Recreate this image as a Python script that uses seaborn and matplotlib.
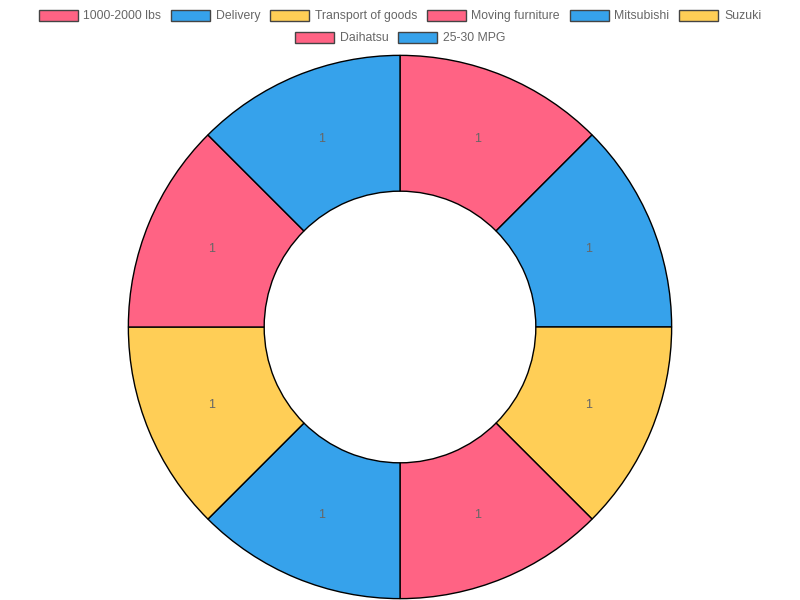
import matplotlib
matplotlib.use("Agg")
import matplotlib.pyplot as plt
from matplotlib.patches import Patch
import seaborn as sns
import numpy as np

labels = ["1000-2000 lbs", "Delivery", "Transport of goods", "Moving furniture",
          "Mitsubishi", "Suzuki", "Daihatsu", "25-30 MPG"]
values = [1, 1, 1, 1, 1, 1, 1, 1]
base_colors = ["#FF6384", "#36A2EB", "#FFCE56"]
colors = [base_colors[i % 3] for i in range(len(labels))]

sns.set_style("white")
plt.rcParams['font.family'] = ['Liberation Sans', 'DejaVu Sans']

fig = plt.figure(figsize=(8, 6), dpi=100)
ax = fig.add_axes([127 / 800, 0, 546 / 800, 546 / 600])

wedges, _ = ax.pie(values, colors=colors, startangle=90, counterclock=False,
                   radius=1.0, wedgeprops=dict(width=0.5, edgecolor="black", linewidth=1))
ax.set_xlim(-1.005, 1.005)
ax.set_ylim(-1.005, 1.005)
ax.set_aspect("equal")
ax.axis("off")

# value labels in the middle of the ring
total = sum(values)
angle = 90.0
for v in values:
    span = 360.0 * v / total
    mid = np.deg2rad(angle - span / 2)
    ax.text(0.75 * np.cos(mid), 0.75 * np.sin(mid), str(v), ha="center", va="center",
            fontsize=9, color="#666666")
    angle -= span

handles = [Patch(facecolor=c, edgecolor="#444444", linewidth=1) for c in colors]
kw = dict(frameon=False, fontsize=8.8, handlelength=3.2, handleheight=1.05,
          handletextpad=0.45, columnspacing=0.8, labelcolor="#666666", borderaxespad=0)
fig.legend(handles[:6], labels[:6], loc="center", bbox_to_anchor=(0.5, 1 - 16 / 600),
           ncol=6, **kw)
fig.legend(handles[6:], labels[6:], loc="center", bbox_to_anchor=(0.5, 1 - 38 / 600),
           ncol=2, **kw)

fig.savefig("out.png", dpi=100)
